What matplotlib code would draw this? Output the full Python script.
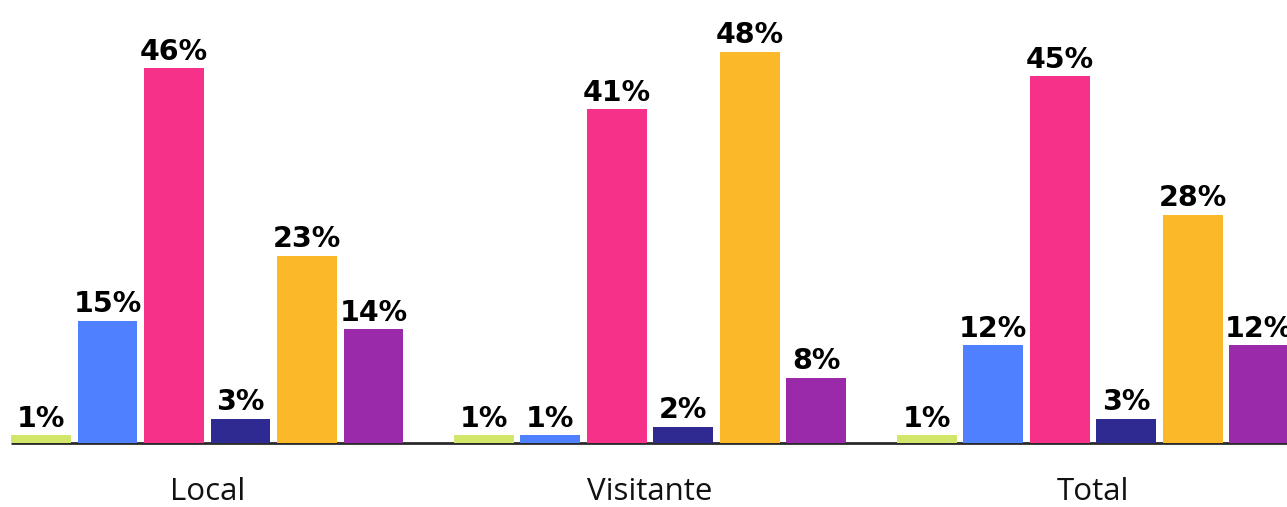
import matplotlib
matplotlib.use('Agg')
import matplotlib.pyplot as plt
import numpy as np

groups = ['Local', 'Visitante', 'Total']
colors = ['#d2e66a', '#4f80ff', '#f5318a', '#2f2a92', '#fbb829', '#9b2aab']
local = [1, 15, 46, 3, 23, 14]
visitante = [1, 1, 41, 2, 48, 8]
total = [1, 12, 45, 3, 28, 12]
series = [local, visitante, total]

W, H = 1287, 507
fig = plt.figure(figsize=(W / 100, H / 100), dpi=100)
ax = fig.add_axes([0, 0, 1, 1])

step = 66.5          # px per bar slot
gap = 6.66           # group spacing in slots
ppu = 8.15           # px per percent
base = 443

ax.set_xlim(-41 / step, (W - 41) / step)
ax.set_ylim(-(H - base) / ppu, base / ppu)
ax.axis('off')

for g, vals in enumerate(series):
    x = g * gap + np.arange(len(vals))
    ax.bar(x, vals, width=0.9, color=colors, zorder=2)
    for xi, v in zip(x, vals):
        ax.annotate(f'{v}%', (xi, v), xytext=(0, 6), textcoords='offset points',
                    ha='center', va='baseline', fontsize=20.5, fontweight='heavy',
                    color='black', zorder=3)
    ax.text(g * gap + 2.5, -49 / ppu, groups[g], ha='center', va='center',
            fontsize=22.5, family='Open Sans', fontweight='normal', color='#111111')

ax.plot([-30 / step, W], [0, 0], color='#2a2a2a', lw=2, zorder=1,
        solid_capstyle='butt')
ax.set_xlim(-41 / step, (W - 41) / step)

fig.savefig('out.png', dpi=100)
